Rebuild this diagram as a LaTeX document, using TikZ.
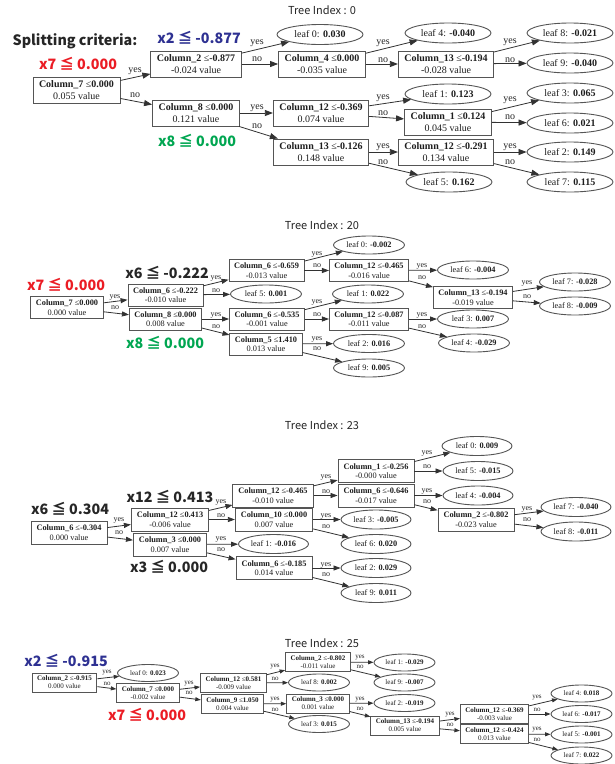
\documentclass[tikz,border=0pt]{standalone}
\usepackage{fontspec}
\setmainfont{Liberation Serif}
\newfontfamily\jp{Noto Sans CJK JP}
\usetikzlibrary{arrows.meta,shapes.geometric}
\definecolor{bordc}{RGB}{85,85,85}
\definecolor{txtc}{RGB}{30,30,30}
\definecolor{edgec}{RGB}{50,50,50}
\definecolor{redc}{RGB}{235,28,36}
\definecolor{bluec}{RGB}{46,49,146}
\definecolor{greenc}{RGB}{0,166,81}
\definecolor{darkc}{RGB}{38,38,38}
\tikzset{
 bx/.style={draw=bordc, line width=0.9pt, fill=white, align=center, text=txtc, inner ysep=0pt},
 bxA/.style={bx, font=\fontsize{10}{11.5}\selectfont, inner xsep=6pt, minimum height=26pt},
 bxB/.style={bx, font=\fontsize{8.3}{9.6}\selectfont, inner xsep=5pt, minimum height=22pt},
 bxC/.style={bx, font=\fontsize{8.3}{9.6}\selectfont, inner xsep=5.5pt, minimum height=23pt},
 bxD/.style={bx, font=\fontsize{7}{8}\selectfont, inner xsep=5pt, minimum height=19pt},
 lf/.style={ellipse, draw=bordc, line width=0.9pt, fill=white, inner sep=0pt, text=txtc},
 lfA/.style={lf, minimum width=86pt, minimum height=20pt, font=\fontsize{10}{12}\selectfont},
 lfB/.style={lf, minimum width=71pt, minimum height=18pt, font=\fontsize{8.3}{10}\selectfont},
 lfC/.style={lf, minimum width=70pt, minimum height=19pt, font=\fontsize{8.3}{10}\selectfont},
 lfD/.style={lf, minimum width=61pt, minimum height=17pt, font=\fontsize{7}{8}\selectfont},
 lb/.style={inner sep=0pt, text=darkc},
 lbA/.style={lb, font=\fontsize{10}{10}\selectfont},
 lbB/.style={lb, font=\fontsize{8}{8}\selectfont},
 lbD/.style={lb, font=\fontsize{7}{7}\selectfont},
 ed/.style={draw=edgec, line width=0.8pt},
 arA/.style={ed, -{Triangle[length=8pt,width=6pt]}},
 arB/.style={ed, -{Triangle[length=7pt,width=5pt]}},
 arD/.style={ed, -{Triangle[length=5.5pt,width=4pt]}},
 ann/.style={font=\jp\bfseries\fontsize{14.3}{16}\selectfont, inner sep=0pt},
 ttl/.style={font=\jp\fontsize{11}{13}\selectfont, inner sep=0pt, text=darkc}
}
\newcommand\splitnode[6]{\node[#1] (#2) at (#3) {\textbf{Column\_#4} ≤\textbf{#5}\\#6 value};}
\newcommand\leafnode[4]{\node[#1] (#2) at (#3) {leaf #4};}
\newcommand\elab[4]{\node[#1] (#2) at (#3) {#4};}
\begin{document}
\begin{tikzpicture}[x=1pt,y=-1pt]
\useasboundingbox[fill=white] (0,0) rectangle (615,764);
% ================= Tree 0 =================
\node[ttl] (ti0) at (322,10) {Tree Index : 0};
\node[ann, text=darkc] (sc) at (75,41) {Splitting criteria:};
\node[ann, text=redc] (a0x7) at (78,64) {x7 ≦ 0.000};
\node[ann, text=bluec] (a0x2) at (199,38) {x2 ≦ -0.877};
\node[ann, text=greenc] (a0x8) at (197,141) {x8 ≦ 0.000};

\splitnode{bxA}{ac7}{76.5,90}{7}{0.000}{0.055}
\splitnode{bxA}{ac2}{196,64}{2}{-0.877}{-0.024}
\splitnode{bxA}{ac8}{196,113}{8}{0.000}{0.121}
\leafnode{lfA}{aL0}{320,34.5}{0: \textbf{0.030}}
\splitnode{bxA}{ac4}{322,64}{4}{0.000}{-0.035}
\splitnode{bxA}{ac12}{321,113}{12}{-0.369}{0.074}
\splitnode{bxA}{ac13}{321,152}{13}{-0.126}{0.148}
\leafnode{lfA}{aL4}{448,33}{4: \textbf{-0.040}}
\splitnode{bxA}{ac13b}{446,64}{13}{-0.194}{-0.028}
\leafnode{lfA}{aL8}{570,33}{8: \textbf{-0.021}}
\leafnode{lfA}{aL9}{570,63}{9: \textbf{-0.040}}
\leafnode{lfA}{aL1}{448,94}{1: \textbf{0.123}}
\splitnode{bxA}{ac1}{448,122}{1}{0.124}{0.045}
\leafnode{lfA}{aL3}{570,93}{3: \textbf{0.065}}
\leafnode{lfA}{aL6}{570,123}{6: \textbf{0.021}}
\splitnode{bxA}{ac12b}{446,152}{12}{-0.291}{0.134}
\leafnode{lfA}{aL5}{449,182}{5: \textbf{0.162}}
\leafnode{lfA}{aL2}{570,152}{2: \textbf{0.149}}
\leafnode{lfA}{aL7}{570,182}{7: \textbf{0.115}}

\draw[arA] (ac7) -- (ac2);   \draw[arA] (ac7) -- (ac8);
\draw[arA] (ac2) -- (aL0);   \draw[arA] (ac2) -- (ac4);
\draw[arA] (ac4) -- (aL4);   \draw[arA] (ac4) -- (ac13b);
\draw[arA] (ac13b) -- (aL8); \draw[arA] (ac13b) -- (aL9);
\draw[arA] (ac8) -- (ac12);  \draw[arA] (ac8) -- (ac13);
\draw[arA] (ac12) -- (aL1);  \draw[arA] (ac12) -- (ac1);
\draw[arA] (ac1) -- (aL3);   \draw[arA] (ac1) -- (aL6);
\draw[arA] (ac13) -- (ac12b);\draw[arA] (ac13) -- (aL5);
\draw[arA] (ac12b) -- (aL2); \draw[arA] (ac12b) -- (aL7);

\elab{lbA}{ay1}{135,71}{yes}  \elab{lbA}{an1}{135,95}{no}
\elab{lbA}{ay2}{257,43}{yes}  \elab{lbA}{an2}{257,59}{no}
\elab{lbA}{ay3}{257,108}{yes} \elab{lbA}{an3}{257,126}{no}
\elab{lbA}{ay4}{383,43}{yes}  \elab{lbA}{an4}{383,60}{no}
\elab{lbA}{ay5}{510,42}{yes}  \elab{lbA}{an5}{510,60}{no}
\elab{lbA}{ay6}{383,98}{yes}  \elab{lbA}{an6}{383,113}{no}
\elab{lbA}{ay7}{510,100}{yes} \elab{lbA}{an7}{510,117}{no}
\elab{lbA}{ay8}{383,147}{yes} \elab{lbA}{an8}{383,162}{no}
\elab{lbA}{ay9}{510,147}{yes} \elab{lbA}{an9}{510,162}{no}

% ================= Tree 20 =================
\node[ttl] (ti20) at (322,225) {Tree Index : 20};
\node[ann, text=redc] (b0x7) at (66,285) {x7 ≦ 0.000};
\node[ann, text=darkc] (b0x6) at (167,273) {x6 ≦ -0.222};
\node[ann, text=greenc] (b0x8) at (165,343) {x8 ≦ 0.000};

\splitnode{bxB}{bc7}{67,307.5}{7}{0.000}{0.000}
\splitnode{bxB}{bc6}{165.5,295}{6}{-0.222}{-0.010}
\splitnode{bxB}{bc8}{165.5,319}{8}{0.000}{0.008}
\splitnode{bxB}{bc6a}{266.5,270.5}{6}{-0.659}{-0.013}
\leafnode{lfB}{bL5}{266,294}{5: \textbf{0.001}}
\splitnode{bxB}{bc6b}{267,319}{6}{-0.535}{-0.001}
\splitnode{bxB}{bc5}{266,344}{5}{1.410}{0.013}
\leafnode{lfB}{bL0}{369,245}{0: \textbf{-0.002}}
\splitnode{bxB}{bc12a}{369,270.5}{12}{-0.465}{-0.016}
\leafnode{lfB}{bL1}{368,294}{1: \textbf{0.022}}
\splitnode{bxB}{bc12b}{369,319}{12}{-0.087}{-0.011}
\leafnode{lfB}{bL2}{369,343.5}{2: \textbf{0.016}}
\leafnode{lfB}{bL9}{369,368}{9: \textbf{0.005}}
\leafnode{lfB}{bL6}{473,270}{6: \textbf{-0.004}}
\splitnode{bxB}{bc13}{473,297.5}{13}{-0.194}{-0.019}
\leafnode{lfB}{bL3}{473,319}{3: \textbf{0.007}}
\leafnode{lfB}{bL4}{474,343}{4: \textbf{-0.029}}
\leafnode{lfB}{bL7}{575,282}{7: \textbf{-0.028}}
\leafnode{lfB}{bL8}{575,306}{8: \textbf{-0.009}}

\draw[arB] (bc7) -- (bc6);    \draw[arB] (bc7) -- (bc8);
\draw[arB] (bc6) -- (bc6a);   \draw[arB] (bc6) -- (bL5);
\draw[arB] (bc8) -- (bc6b);   \draw[arB] (bc8) -- (bc5);
\draw[arB] (bc6a) -- (bL0);   \draw[arB] (bc6a) -- (bc12a);
\draw[arB] (bc12a) -- (bL6);  \draw[arB] (bc12a) -- (bc13);
\draw[arB] (bc13) -- (bL7);   \draw[arB] (bc13) -- (bL8);
\draw[arB] (bc6b) -- (bL1);   \draw[arB] (bc6b) -- (bc12b);
\draw[arB] (bc12b) -- (bL3);  \draw[arB] (bc12b) -- (bL4);
\draw[arB] (bc5) -- (bL2);    \draw[arB] (bc5) -- (bL9);

\elab{lbB}{by1}{115,297}{yes} \elab{lbB}{bn1}{115,308}{no}
\elab{lbB}{by2}{216,278}{yes} \elab{lbB}{bn2}{216,291}{no}
\elab{lbB}{by3}{216,315}{yes} \elab{lbB}{bn3}{216,327}{no}
\elab{lbB}{by4}{317,254}{yes} \elab{lbB}{bn4}{317,266}{no}
\elab{lbB}{by5}{317,302}{yes} \elab{lbB}{bn5}{317,315}{no}
\elab{lbB}{by6}{317,339}{yes} \elab{lbB}{bn6}{317,349}{no}
\elab{lbB}{by7}{422,266}{yes} \elab{lbB}{bn7}{422,278}{no}
\elab{lbB}{by8}{422,315}{yes} \elab{lbB}{bn8}{422,327}{no}
\elab{lbB}{by9}{527,283}{yes} \elab{lbB}{bn9}{527,297}{no}

% ================= Tree 23 =================
\node[ttl] (ti23) at (322,425) {Tree Index : 23};
\node[ann, text=darkc] (c0x6) at (70,509) {x6 ≦ 0.304};
\node[ann, text=darkc] (c0x12) at (170,497) {x12 ≦ 0.413};
\node[ann, text=darkc] (c0x3) at (169,567) {x3 ≦ 0.000};

\splitnode{bxC}{cc6}{69,532.5}{6}{-0.304}{0.000}
\splitnode{bxC}{cc12}{170,519.5}{12}{0.413}{-0.006}
\splitnode{bxC}{cc3}{170,544.5}{3}{0.000}{0.007}
\splitnode{bxC}{cc12a}{273,495.5}{12}{-0.465}{-0.010}
\splitnode{bxC}{cc10}{274,519.5}{10}{0.000}{0.007}
\leafnode{lfC}{cL1}{273.5,544}{1: \textbf{-0.016}}
\splitnode{bxC}{cc6c}{274,568}{6}{-0.185}{0.014}
\splitnode{bxC}{cc1}{376,471}{1}{-0.256}{-0.000}
\splitnode{bxC}{cc6b}{376,495.5}{6}{-0.646}{-0.017}
\leafnode{lfC}{cL3}{376,519.5}{3: \textbf{-0.005}}
\leafnode{lfC}{cL6}{376,544}{6: \textbf{0.020}}
\leafnode{lfC}{cL2}{376,568}{2: \textbf{0.029}}
\leafnode{lfC}{cL9}{376,593}{9: \textbf{0.011}}
\leafnode{lfC}{cL0}{477,446}{0: \textbf{0.009}}
\leafnode{lfC}{cL5}{478,471}{5: \textbf{-0.015}}
\leafnode{lfC}{cL4}{478,495.5}{4: \textbf{-0.004}}
\splitnode{bxC}{cc2}{476,519.5}{2}{-0.802}{-0.023}
\leafnode{lfC}{cL7}{576,507}{7: \textbf{-0.040}}
\leafnode{lfC}{cL8}{576,531.5}{8: \textbf{-0.011}}

\draw[arB] (cc6) -- (cc12);   \draw[arB] (cc6) -- (cc3);
\draw[arB] (cc12) -- (cc12a); \draw[arB] (cc12) -- (cc10);
\draw[arB] (cc3) -- (cL1);    \draw[arB] (cc3) -- (cc6c);
\draw[arB] (cc12a) -- (cc1);  \draw[arB] (cc12a) -- (cc6b);
\draw[arB] (cc10) -- (cL3);   \draw[arB] (cc10) -- (cL6);
\draw[arB] (cc6c) -- (cL2);   \draw[arB] (cc6c) -- (cL9);
\draw[arB] (cc1) -- (cL0);    \draw[arB] (cc1) -- (cL5);
\draw[arB] (cc6b) -- (cL4);   \draw[arB] (cc6b) -- (cc2);
\draw[arB] (cc2) -- (cL7);    \draw[arB] (cc2) -- (cL8);

\elab{lbB}{cy1}{119,520}{yes} \elab{lbB}{cn1}{119,533}{no}
\elab{lbB}{cy2}{221,502}{yes} \elab{lbB}{cn2}{221,516}{no}
\elab{lbB}{cy3}{221,539}{yes} \elab{lbB}{cn3}{221,550}{no}
\elab{lbB}{cy4}{326,477}{yes} \elab{lbB}{cn4}{326,492}{no}
\elab{lbB}{cy5}{326,516}{yes} \elab{lbB}{cn5}{326,527}{no}
\elab{lbB}{cy6}{326,565}{yes} \elab{lbB}{cn6}{326,575}{no}
\elab{lbB}{cy7}{427,453}{yes} \elab{lbB}{cn7}{427,467}{no}
\elab{lbB}{cy8}{427,491}{yes} \elab{lbB}{cn8}{427,502}{no}
\elab{lbB}{cy9}{527,509}{yes} \elab{lbB}{cn9}{527,520}{no}

% ================= Tree 25 =================
\node[ttl] (ti25) at (322,643) {Tree Index : 25};
\node[ann, text=bluec] (d0x2) at (66,661) {x2 ≦ -0.915};
\node[ann, text=redc] (d0x7) at (147,715) {x7 ≦ 0.000};

\splitnode{bxD}{dc2}{64.5,682.5}{2}{-0.915}{0.000}
\leafnode{lfD}{dL0}{148,673}{0: \textbf{0.023}}
\splitnode{bxD}{dc7}{148,693}{7}{0.000}{-0.002}
\splitnode{bxD}{dc12}{233.5,683}{12}{0.581}{-0.009}
\splitnode{bxD}{dc9}{232.5,704}{9}{1.050}{0.004}
\splitnode{bxD}{dc2b}{318,662}{2}{-0.802}{-0.011}
\leafnode{lfD}{dL8}{319,682.5}{8: \textbf{0.002}}
\splitnode{bxD}{dc3}{318,703.5}{3}{0.000}{0.001}
\leafnode{lfD}{dL3}{319,724}{3: \textbf{0.015}}
\leafnode{lfD}{dL1}{404.5,662.5}{1: \textbf{-0.029}}
\leafnode{lfD}{dL9}{404.5,682.5}{9: \textbf{-0.007}}
\leafnode{lfD}{dL2}{404.5,703}{2: \textbf{-0.019}}
\splitnode{bxD}{dc13}{405,725.5}{13}{-0.194}{0.005}
\splitnode{bxD}{dc12c}{494.5,714}{12}{-0.369}{-0.003}
\splitnode{bxD}{dc12d}{494.5,734}{12}{-0.424}{0.013}
\leafnode{lfD}{dL4}{581.5,693.5}{4: \textbf{0.018}}
\leafnode{lfD}{dL6}{581.5,714}{6: \textbf{-0.017}}
\leafnode{lfD}{dL5}{581.5,734.5}{5: \textbf{-0.001}}
\leafnode{lfD}{dL7}{581.5,755.5}{7: \textbf{0.022}}

\draw[arD] (dc2) -- (dL0);    \draw[arD] (dc2) -- (dc7);
\draw[arD] (dc7) -- (dc12);   \draw[arD] (dc7) -- (dc9);
\draw[arD] (dc12) -- (dc2b);  \draw[arD] (dc12) -- (dL8);
\draw[arD] (dc9) -- (dc3);    \draw[arD] (dc9) -- (dL3);
\draw[arD] (dc2b) -- (dL1);   \draw[arD] (dc2b) -- (dL9);
\draw[arD] (dc3) -- (dL2);    \draw[arD] (dc3) -- (dc13);
\draw[arD] (dc13) -- (dc12c); \draw[arD] (dc13) -- (dc12d);
\draw[arD] (dc12c) -- (dL4);  \draw[arD] (dc12c) -- (dL6);
\draw[arD] (dc12d) -- (dL5);  \draw[arD] (dc12d) -- (dL7);

\elab{lbD}{dy1}{107,673}{yes} \elab{lbD}{dn1}{107,684}{no}
\elab{lbD}{dy2}{189,684}{yes} \elab{lbD}{dn2}{189,693}{no}
\elab{lbD}{dy3}{275,667}{yes} \elab{lbD}{dn3}{275,679}{no}
\elab{lbD}{dy4}{275,700}{yes} \elab{lbD}{dn4}{275,710}{no}
\elab{lbD}{dy5}{360,658}{yes} \elab{lbD}{dn5}{360,667}{no}
\elab{lbD}{dy6}{360,700}{yes} \elab{lbD}{dn6}{360,709}{no}
\elab{lbD}{dy7}{450,715}{yes} \elab{lbD}{dn7}{450,725}{no}
\elab{lbD}{dy8}{537,698}{yes} \elab{lbD}{dn8}{537,710}{no}
\elab{lbD}{dy9}{537,730}{yes} \elab{lbD}{dn9}{537,740}{no}
\end{tikzpicture}
\end{document}
